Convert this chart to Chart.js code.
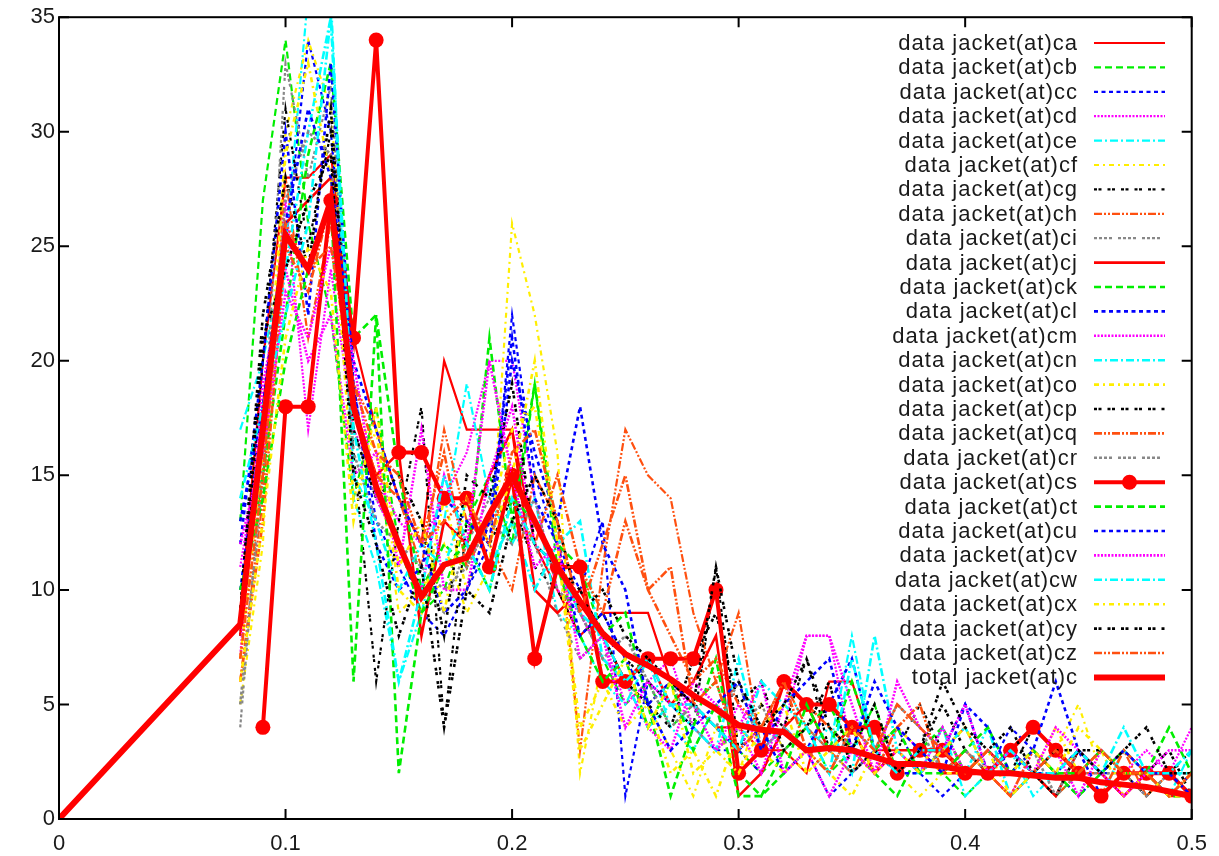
<!DOCTYPE html>
<html>
<head>
<meta charset="utf-8">
<title>jacket(at)c</title>
<script src="https://cdn.jsdelivr.net/npm/chart.js@4.4.0/dist/chart.umd.min.js"></script>
<style>
  body { margin: 0; background: #fff; }
  #wrap { width: 1219px; height: 856px; }
</style>
</head>
<body>
<div id="wrap"><canvas id="myChart" width="1219" height="856"></canvas></div>
<script>
// x positions shared by every data series
const xs = [0.08, 0.09, 0.10, 0.11, 0.12, 0.13, 0.14, 0.15, 0.16, 0.17,
            0.18, 0.19, 0.20, 0.21, 0.22, 0.23, 0.24, 0.25, 0.26, 0.27,
            0.28, 0.29, 0.30, 0.31, 0.32, 0.33, 0.34, 0.35, 0.36, 0.37,
            0.38, 0.39, 0.40, 0.41, 0.42, 0.43, 0.44, 0.45, 0.46, 0.47, 0.48, 0.49, 0.50];
const totalXs = [0].concat(xs);

const xTicks = [0, 0.1, 0.2, 0.3, 0.4, 0.5];
const yTicks = [0, 5, 10, 15, 20, 25, 30, 35];

const names = ['ca','cb','cc','cd','ce','cf','cg','ch','ci','cj','ck','cl','cm',
               'cn','co','cp','cq','cr','cs','ct','cu','cv','cw','cx','cy','cz'];

const ca = [9,20,28,28,29,21,17,14,12,20, 17,17,17,12,10,8,9,9,9,6, 5,4,4,3,3,2,6,6,3,3, 2,3,2,2,1,2,3,2,2,1,2,1,1];
const cb = [13,27,34,26,22,14,18,12,9,10, 13,15,12,19,11,9,7,5,6,4, 5,6,3,2,3,4,2,3,5,2, 3,2,1,2,3,2,1,2,3,2,2,1,2];
const cc = [10,18,25,34,30,19,13,11,9,8, 10,12,22,15,12,10,13,1,6,5, 4,3,3,2,4,3,1,2,3,4, 2,1,2,2,4,3,2,1,2,2,1,2,2];
const cd = [11,17,27,17,24,17,15,13,12,14, 16,20,20,14,10,9,8,5,6,7, 4,3,5,3,4,8,8,3,2,4, 3,2,3,2,1,3,2,2,1,2,3,2,4];
const ce = [17,20,25,36,36,14,11,6,9,13, 19,14,12,14,9,8,6,5,7,4, 3,5,4,3,6,4,3,8,3,2, 2,4,1,2,3,1,2,2,3,2,2,1,3];
const cf = [5,12,30,34,31,18,16,9,10,12, 9,11,26,22,16,2,7,6,5,3, 1,4,2,5,3,2,3,2,4,2, 1,2,3,2,1,2,3,5,2,2,1,2,2];
const cg = [8,20,31,25,30,16,6,13,18,4, 13,12,14,11,10,8,9,7,6,5, 4,11,3,5,4,7,3,4,2,3, 5,3,2,3,2,4,3,2,3,2,1,2,3];
const ch = [6,14,28,21,26,19,17,14,11,17, 13,12,10,15,13,3,11,17,15,14, 9,6,9,3,6,4,3,2,4,3, 2,3,4,2,3,2,1,2,2,3,1,2,1];
const ci = [4,16,33,28,32,17,14,12,10,9, 12,14,13,12,9,7,8,6,5,6, 4,3,4,5,3,4,3,2,3,5, 4,3,2,2,3,2,1,2,2,1,2,1,2];
const cj = [8,18,26,27,28,18,15,16,8,13, 12,15,17,10,9,10,8,6,7,5, 6,8,1,2,4,5,3,4,2,3, 3,2,2,3,2,2,1,3,2,1,2,2,1];
const ck = [9,15,22,29,33,21,22,15,10,12, 11,21,13,19,12,11,8,9,5,1, 4,7,2,1,3,4,5,3,2,1, 3,4,2,3,2,3,2,1,2,3,2,1,1];
const cl = [12,20,30,22,33,19,12,10,11,14, 13,12,20,16,13,18,12,10,5,6, 5,4,3,4,2,3,5,7,3,2, 2,3,5,2,3,2,2,3,1,2,2,1,2];
const cm = [7,19,24,20,22,15,16,11,17,10, 10,15,18,12,11,9,7,6,4,3, 6,5,4,2,5,8,8,5,2,3, 2,4,2,3,2,2,3,1,3,2,2,2,1];
const cn = [9,17,24,30,35,15,13,10,12,11, 14,11,13,10,12,13,7,6,4,5, 4,3,7,3,4,3,4,2,8,3, 2,3,2,4,1,2,3,2,1,3,2,2,2];
const co = [7,16,29,33,28,14,17,10,9,14, 10,13,17,18,12,4,6,4,5,2, 3,1,4,3,2,3,2,1,3,4, 3,2,2,3,1,2,4,2,3,1,2,1,1];
const cp = [9,22,28,24,31,17,14,15,13,8, 15,14,19,12,11,10,8,6,5,4, 7,9,5,6,3,4,6,2,3,2, 3,5,3,2,3,2,1,3,3,2,2,3,1];
const cq = [6,13,25,23,27,18,15,14,12,16, 11,13,14,12,15,11,9,13,10,8, 6,7,5,4,6,5,4,3,2,4, 5,2,3,2,1,3,2,2,1,3,2,1,2];
const cr = [5,15,27,30,29,16,13,12,11,10, 11,13,12,14,10,9,7,8,6,4, 5,4,6,3,4,3,2,4,3,5, 4,2,3,2,2,3,1,3,2,2,1,2,1];
const cs = [null,4,18,18,27,21,34,16,16,14, 14,11,15,7,11,11,6,6,7,7, 7,10,2,3,6,5,5,4,4,2, 3,3,2,2,3,4,3,2,1,2,2,2,1];
const ct = [10,14,20,24,27,6,22,2,9,11, 12,10,14,13,11,8,6,7,4,6, 3,5,1,1,2,5,3,6,3,4, 2,2,3,4,2,3,2,2,3,2,2,4,2];
const cu = [13,18,26,31,28,20,17,14,12,9, 10,13,21,14,12,8,9,7,5,3, 4,5,6,3,5,6,7,3,6,4, 3,2,5,4,2,3,6,3,2,3,2,2,1];
const cv = [12,16,23,21,25,20,14,12,10,15, 12,20,15,11,12,7,8,4,6,5, 5,3,4,6,2,3,1,3,2,6, 4,3,5,2,3,2,4,3,2,1,2,3,3];
const cw = [14,18,22,26,35,17,12,6,10,15, 12,10,14,12,11,9,8,6,7,5, 5,4,3,6,5,4,2,7,3,2, 3,3,4,2,3,2,2,3,2,4,2,2,3];
const cx = [6,13,21,25,23,13,18,11,13,9, 14,12,15,20,12,3,5,7,4,6, 2,3,2,4,5,2,3,4,2,3, 2,3,4,2,2,3,2,4,3,2,2,1,2];
const cy = [9,21,24,27,29,15,12,8,11,4, 10,9,13,15,13,9,10,8,7,6, 5,11,6,4,5,7,4,3,5,2, 3,6,4,3,4,2,3,3,2,3,4,2,2];
const cz = [7,15,26,24,25,19,16,15,12,13, 14,12,16,17,13,9,12,15,10,11, 5,6,3,4,6,3,2,4,3,5, 4,3,2,3,2,2,3,2,3,2,2,1,2];
const total = [0, 8.5,17,25.5,24,27,18,14.5,12,9.7,11.1, 11.4,13.3,15,13,11,9.5,8.1,7.2,6.7,6.1,
               5.4,4.8,4.1,3.9,3.8,3.0,3.1,3.0,2.7,2.4, 2.4,2.3,2.1,2.0,2.0,1.9,1.8,1.8,1.6,1.5,1.4,1.2,1.0];

const seriesVals = [ca,cb,cc,cd,ce,cf,cg,ch,ci,cj,ck,cl,cm,cn,co,cp,cq,cr,cs,ct,cu,cv,cw,cx,cy,cz];

// gnuplot style line types 1..9 (color + dash)
const lineTypes = [
  {color: '#ff0000', dash: []},
  {color: '#00ee00', dash: [7, 4]},
  {color: '#0000ff', dash: [4, 3.5]},
  {color: '#ff00ff', dash: [2, 1.5]},
  {color: '#00ffff', dash: [8, 3, 2, 3]},
  {color: '#ffee00', dash: [5, 4, 2, 4]},
  {color: '#000000', dash: [3, 1.5, 3, 6]},
  {color: '#ff5010', dash: [8, 2, 2, 2, 2, 2]},
  {color: '#888888', dash: [3, 2, 3, 2, 3, 2, 3, 6]}
];

const datasets = [];
names.forEach((n, i) => {
  // ca..ci and cj..cr cycle through types 1..9, cs is the marked one, ct..cz continue at type 2
  let lt = i < 18 ? i % 9 : (i === 18 ? 0 : (i - 18));
  const st = lineTypes[lt];
  const isCs = n === 'cs';
  datasets.push({
    label: 'data jacket(at)' + n,
    data: seriesVals[i].map((v, k) => ({x: xs[k], y: v})),
    borderColor: st.color,
    backgroundColor: st.color,
    borderDash: isCs ? [] : st.dash,
    borderWidth: isCs ? 4 : (i < 9 ? 2.2 : 2.6),
    pointRadius: isCs ? 7.5 : 0,
    pointBorderWidth: 0,
    pointHoverRadius: isCs ? 7.5 : 0,
    tension: 0
  });
});
datasets.push({
  label: 'total jacket(at)c',
  data: total.map((v, k) => ({x: totalXs[k], y: v})),
  borderColor: '#ff0000',
  backgroundColor: '#ff0000',
  borderDash: [],
  borderWidth: 6,
  pointRadius: 0,
  tension: 0
});
// draw later series on top like gnuplot does
datasets.forEach((d, i) => { d.order = datasets.length - i; });

// frame with inward ticks on all four sides
const framePlugin = {
  id: 'frame',
  afterDatasetsDraw(chart) {
    const {ctx, chartArea: a, scales} = chart;
    ctx.save();
    ctx.strokeStyle = '#000';
    ctx.lineWidth = 2;
    ctx.setLineDash([]);
    ctx.strokeRect(a.left, a.top, a.right - a.left, a.bottom - a.top);
    ctx.beginPath();
    xTicks.forEach(t => {
      const px = scales.x.getPixelForValue(t);
      ctx.moveTo(px, a.bottom); ctx.lineTo(px, a.bottom - 10);
      ctx.moveTo(px, a.top); ctx.lineTo(px, a.top + 10);
    });
    yTicks.forEach(t => {
      const py = scales.y.getPixelForValue(t);
      ctx.moveTo(a.left, py); ctx.lineTo(a.left + 10, py);
      ctx.moveTo(a.right, py); ctx.lineTo(a.right - 10, py);
    });
    ctx.stroke();
    ctx.restore();
  }
};

// key in the top right: text right aligned, sample line to its right
const keyPlugin = {
  id: 'gnukey',
  afterDatasetsDraw(chart) {
    const ctx = chart.ctx;
    const textRight = 1078, x0 = 1094, x1 = 1165;
    ctx.save();
    ctx.font = '22px "Liberation Sans", Arial, sans-serif';
    ctx.letterSpacing = '1px';
    ctx.textAlign = 'right';
    ctx.textBaseline = 'middle';
    chart.data.datasets.forEach((d, i) => {
      const y = 43 + i * 24.4;
      ctx.fillStyle = '#1a1a1a';
      ctx.fillText(d.label, textRight, y + 1);
      ctx.strokeStyle = d.borderColor;
      ctx.lineWidth = d.borderWidth;
      ctx.setLineDash(d.borderDash || []);
      ctx.beginPath();
      ctx.moveTo(x0, y); ctx.lineTo(x1, y);
      ctx.stroke();
      if (d.pointRadius > 0) {
        ctx.fillStyle = d.borderColor;
        ctx.beginPath();
        ctx.arc((x0 + x1) / 2, y, d.pointRadius, 0, Math.PI * 2);
        ctx.fill();
      }
    });
    ctx.restore();
  }
};

const tickFont = {family: '"Liberation Sans", Arial, sans-serif', size: 22};

new Chart(document.getElementById('myChart').getContext('2d'), {
  type: 'line',
  data: {datasets: datasets},
  options: {
    responsive: false,
    animation: false,
    devicePixelRatio: 1,
    layout: {padding: {top: 16, right: 25, left: 0, bottom: 0}},
    plugins: {legend: {display: false}, tooltip: {enabled: false}},
    scales: {
      x: {
        type: 'linear', min: 0, max: 0.5,
        grid: {display: false, drawTicks: false},
        border: {display: false},
        ticks: {stepSize: 0.1, padding: 12, color: '#1a1a1a', font: tickFont,
                maxRotation: 0,
                callback: v => String(+v.toFixed(1))},
        afterFit: s => { s.height = 37; }
      },
      y: {
        min: 0, max: 35,
        grid: {display: false, drawTicks: false},
        border: {display: false},
        ticks: {stepSize: 5, padding: 4, color: '#1a1a1a', font: tickFont},
        afterFit: s => { s.width = 59; }
      }
    }
  },
  plugins: [framePlugin, keyPlugin]
});
</script>
</body>
</html>
